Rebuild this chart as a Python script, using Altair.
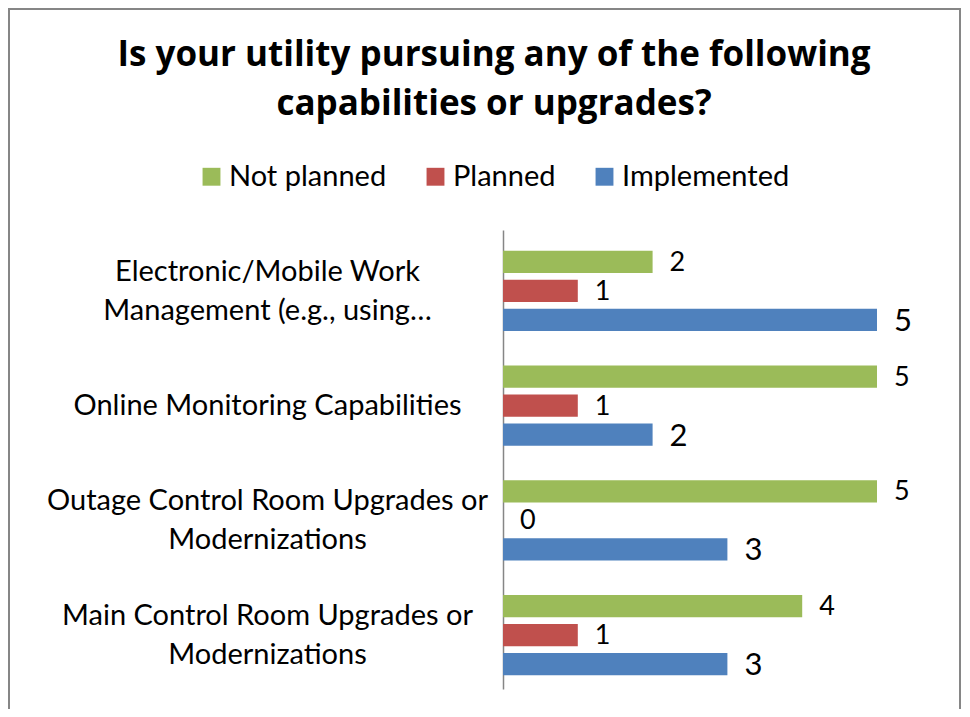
import altair as alt
import pandas as pd

title_lines = ["Is your utility pursuing any of the following", "capabilities or upgrades?"]
categories = [
    "Electronic/Mobile Work|Management (e.g., using…",
    "Online Monitoring Capabilities",
    "Outage Control Room Upgrades or|Modernizations",
    "Main Control Room Upgrades or|Modernizations",
]
series = ["Not planned", "Planned", "Implemented"]
not_planned = [2, 5, 5, 4]
planned = [1, 1, 0, 1]
implemented = [5, 2, 3, 3]
colors = ["#9BBB59", "#C0504D", "#4F81BD"]

rows = []
for i, c in enumerate(categories):
    for s, vals in zip(series, [not_planned, planned, implemented]):
        rows.append({"category": c, "series": s, "value": vals[i]})
df = pd.DataFrame(rows)

FONT = "Lato"

y_enc = alt.Y(
    "category:N",
    sort=categories,
    scale=alt.Scale(paddingInner=0.3, paddingOuter=0.15, align=0.6),
    axis=alt.Axis(
        title=None,
        ticks=False,
        domainColor="#868686",
        domainWidth=1.5,
        labelFont=FONT,
        labelFontSize=29,
        labelColor="black",
        labelLimit=0,
        labelAlign="center",
        labelPadding=236,
        labelLineHeight=39,
        labelOffset={"condition": {"test": "indexof(datum.value, '|') >= 0", "value": -19}, "value": 0},
        labelExpr="split(datum.label, '|')",
    ),
)
x_enc = alt.X("value:Q", scale=alt.Scale(domain=[0, 5]), axis=None)
yoff = alt.YOffset("series:N", sort=series, scale=alt.Scale(paddingInner=0.23))

base = alt.Chart(df)

bars = base.mark_bar().encode(
    y=y_enc,
    x=x_enc,
    yOffset=yoff,
    color=alt.Color(
        "series:N",
        sort=series,
        scale=alt.Scale(domain=series, range=colors),
        legend=alt.Legend(
            title=None,
            orient="none",
            legendX=-306,
            legendY=-68,
            padding=0,
            direction="horizontal",
            symbolType="square",
            symbolSize=320,
            symbolStrokeWidth=0,
            symbolOpacity=1,
            labelFont=FONT,
            labelFontSize=29,
            labelColor="black",
            labelOffset=3,
            columnPadding=34,
            labelLimit=0,
        ),
    ),
)

small_labels = base.transform_filter(
    alt.datum.series != "Implemented"
).mark_text(align="left", baseline="middle", dx=17, dy=1, font=FONT, fontSize=27, color="black").encode(
    y=alt.Y("category:N", sort=categories),
    x=alt.X("value:Q"),
    yOffset=alt.YOffset("series:N", sort=series),
    text=alt.Text("value:Q"),
)

big_labels = base.transform_filter(
    alt.datum.series == "Implemented"
).mark_text(align="left", baseline="middle", dx=17, dy=2, font=FONT, fontSize=31, color="black").encode(
    y=alt.Y("category:N", sort=categories),
    x=alt.X("value:Q"),
    yOffset=alt.YOffset("series:N", sort=series),
    text=alt.Text("value:Q"),
)

title = alt.Chart(alt.Data(values=[{}])).mark_text(
    font="Open Sans", fontSize=35, fontWeight="bold", color="black",
    align="center", baseline="alphabetic", lineHeight=49,
).encode(
    x=alt.value(-9), y=alt.value(-164), text=alt.value(title_lines)
)

border = alt.Chart(alt.Data(values=[{}])).mark_rect(
    fillOpacity=0, stroke="#868686", strokeWidth=2
).encode(
    x=alt.value(-494), x2=alt.value(457), y=alt.value(-221), y2=alt.value(490)
)

chart = alt.layer(border, title, bars, small_labels, big_labels).properties(
    width=374,
    height=459,
    autosize=alt.AutoSizeParams(type="none"),
    padding={"left": 495, "top": 222, "right": 85, "bottom": 20},
).configure(background="white").configure_view(stroke=None)

chart.save("out.html", embed_options={"renderer": "svg", "actions": False})
